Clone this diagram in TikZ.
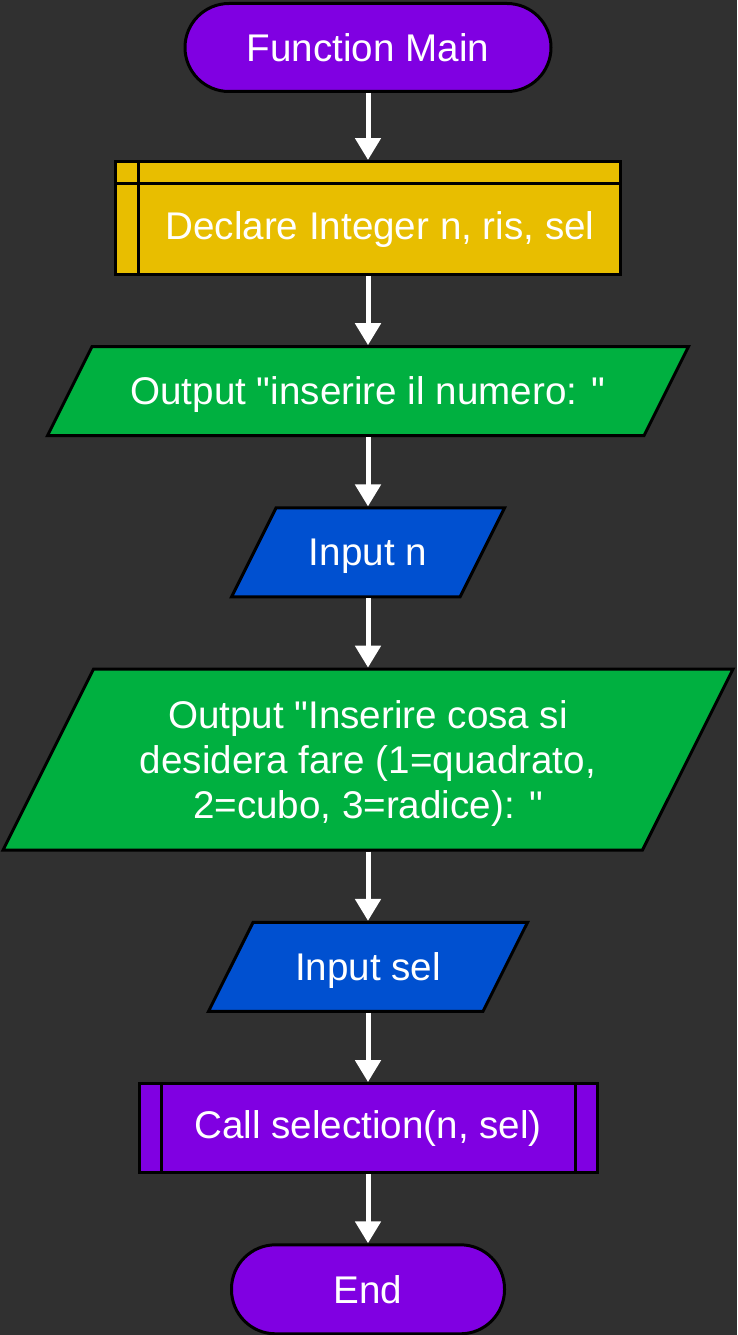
\documentclass[tikz,border=0pt]{standalone}
\usepackage{fontspec}
\setmainfont{Liberation Sans}[Ligatures=TeXOff]
\usetikzlibrary{shapes,arrows.meta,calc,positioning}

\definecolor{sfondo}{RGB}{48,48,48}
\definecolor{viola}{RGB}{128,0,226}
\definecolor{oro}{RGB}{232,190,0}
\definecolor{verde}{RGB}{0,176,64}
\definecolor{blu}{RGB}{0,80,208}

\begin{document}
\begin{tikzpicture}[x=1pt, y=1pt, node distance=69.2pt,
    font=\fontsize{38.6}{45}\selectfont]
\tikzset{
    %Define standard arrow tip
    >={Triangle[width=25pt,length=22pt]},
    %Define base style for blocks
    blocco/.style={
           draw=black, line width=3pt,
           text=white,
           align=center,
           inner sep=0pt},
    termine/.style={
           blocco, rectangle,
           rounded corners=44pt,
           fill=viola,
           minimum height=88pt},
    dichiara/.style={
           blocco, rectangle,
           fill=oro,
           minimum width=505pt,
           minimum height=113pt},
    % parallelograms: height comes from text and inner sep
    io/.style={
           blocco, trapezium,
           trapezium left angle=63.43,
           trapezium right angle=116.57,
           trapezium stretches body=true,
           text height=31.5pt, text depth=4.5pt,
           inner ysep=26.5pt},
    chiamata/.style={
           blocco, rectangle,
           fill=viola,
           minimum width=458pt,
           minimum height=89pt},
    linea/.style={draw=black, line width=3pt},
    % Define arrow style
    pil/.style={
           ->,
           draw=white,
           line width=5pt}
}
 % background
 \fill[sfondo] (0,0) rectangle (737,-1335);
 \useasboundingbox (0,0) rectangle (737,-1335);
 %nodes
 \node[termine, minimum width=366pt] (start) at (368,-47.5) {Function Main};
 \node[dichiara, below=67pt of start,
   label={[text=white, xshift=12pt, yshift=-11.5pt]center:Declare Integer n, ris, sel}]
   (declare) {};
 \node[io, fill=verde, minimum width=641pt, below=of declare]
   (out1) {Output "inserire il numero: "};
 \node[io, fill=blu, minimum width=273pt, below=of out1] (in1) {Input n};
 \node[io, fill=verde, minimum width=730pt, text height=122pt, text depth=5pt,
   inner ysep=27pt, below=of in1]
   (out2) {Output "Inserire cosa si\\desidera fare (1=quadrato,\\2=cubo, 3=radice): "};
 \node[io, fill=blu, minimum width=319pt, below=of out2] (in2) {Input sel};
 \node[chiamata, below=of in2] (call) {Call selection(n, sel)};
 \node[termine, minimum width=273pt, minimum height=89pt, below=of call] (end) {End};
 % inner lines of the blocks
 \draw[linea] ([xshift=24pt]declare.north west) -- ([xshift=24pt]declare.south west);
 \draw[linea] ([yshift=-23pt]declare.north west) -- ([yshift=-23pt]declare.north east);
 \draw[linea] ([xshift=24pt]call.north west) -- ([xshift=24pt]call.south west);
 \draw[linea] ([xshift=-23pt]call.north east) -- ([xshift=-23pt]call.south east);
 % arrows
 \draw[pil] (start.south) -- (declare.north);
 \draw[pil] (declare.south) -- (out1.north);
 \draw[pil] (out1.south) -- (in1.north);
 \draw[pil] (in1.south) -- (out2.north);
 \draw[pil] (out2.south) -- (in2.north);
 \draw[pil] (in2.south) -- (call.north);
 \draw[pil] (call.south) -- (end.north);
\end{tikzpicture}
\end{document}
